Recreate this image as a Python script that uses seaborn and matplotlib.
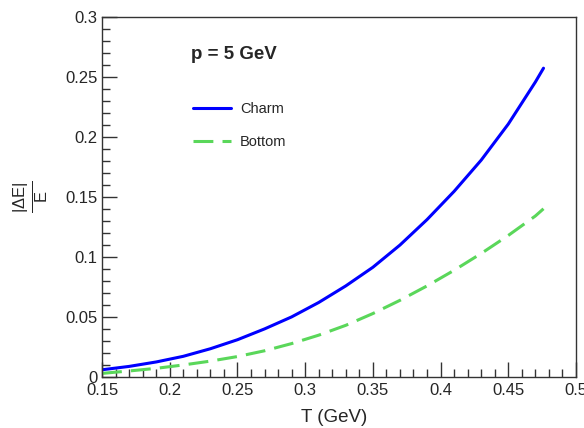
import numpy as np
import pandas as pd
import seaborn as sns
import matplotlib.pyplot as plt
from matplotlib.ticker import MultipleLocator
from matplotlib.lines import Line2D

# temperature grid (GeV) and energy-loss fractions
temperature = [0.15, 0.17, 0.19, 0.21, 0.23, 0.25, 0.27, 0.29, 0.31,
               0.33, 0.35, 0.37, 0.39, 0.41, 0.43, 0.45, 0.47, 0.476]
charm = [0.0060, 0.0088, 0.0125, 0.0172, 0.0235, 0.031, 0.040, 0.050, 0.062,
         0.0758, 0.0913, 0.1098, 0.131, 0.1545, 0.1805, 0.2105, 0.2455, 0.257]
bottom = [0.0030, 0.0050, 0.0072, 0.0100, 0.0132, 0.0170, 0.0218, 0.0278, 0.0348,
          0.0430, 0.0528, 0.0638, 0.0758, 0.0888, 0.1028, 0.1178, 0.1340, 0.1400]

df = pd.DataFrame({'T': temperature, 'Charm': charm, 'Bottom': bottom})

sns.set_style('ticks')
plt.rcParams['font.family'] = ['Liberation Sans', 'DejaVu Sans']
plt.rcParams['mathtext.fontset'] = 'custom'
plt.rcParams['mathtext.rm'] = 'Liberation Sans'
plt.rcParams['mathtext.it'] = 'Liberation Sans'

fig = plt.figure(figsize=(5.84, 4.28), dpi=100)
ax = fig.add_axes([0.1747, 0.1192, 0.8116, 0.8422])

blue = '#0000ff'
green = '#5ad75a'
sns.lineplot(x='T', y='Charm', data=df, ax=ax, color=blue, linewidth=2.2)
sns.lineplot(x='T', y='Bottom', data=df, ax=ax, color=green, linewidth=2.2)
ax.lines[-1].set_dashes([6.5, 3])

ax.set_xlim(0.15, 0.5)
ax.set_ylim(0, 0.3)
ax.xaxis.set_minor_locator(MultipleLocator(0.01))
ax.yaxis.set_minor_locator(MultipleLocator(0.01))
ax.set_xticks([0.15, 0.2, 0.25, 0.3, 0.35, 0.4, 0.45, 0.5])
ax.set_xticklabels(['0.15', '0.2', '0.25', '0.3', '0.35', '0.4', '0.45', '0.5'])
ax.set_yticks([0, 0.05, 0.1, 0.15, 0.2, 0.25, 0.3])
ax.set_yticklabels(['0', '0.05', '0.1', '0.15', '0.2', '0.25', '0.3'])

ax.tick_params(which='major', direction='in', length=11, width=1, labelsize=12,
               top=False, right=False, color='#333333')
ax.tick_params(which='minor', direction='in', length=6, width=1,
               top=False, right=False, color='#333333')
ax.tick_params(axis='x', pad=4)
ax.tick_params(axis='y', pad=3)
for s in ax.spines.values():
    s.set_linewidth(1)
    s.set_color('#333333')

ax.set_xlabel('T (GeV)', fontsize=13.5)
ax.xaxis.set_label_coords(0.489, -0.088)
ax.set_ylabel(r'$\mathrm{\frac{|\Delta E|}{E}}$', fontsize=17)
ax.yaxis.set_label_coords(-0.11, 0.5)

ax.text(0.188, 0.895, 'p = 5 GeV', transform=ax.transAxes, fontsize=13.5,
        fontweight='bold', va='center', ha='left')

handles = [Line2D([], [], color=blue, linewidth=2.2),
           Line2D([], [], color=green, linewidth=2.2, dashes=[6.5, 3])]
ax.legend(handles, ['Charm', 'Bottom'], loc='upper left',
          bbox_to_anchor=(0.165, 0.8), frameon=False, fontsize=10.5,
          handlelength=2.6, labelspacing=1.35, handletextpad=0.6)

fig.savefig('out.png', dpi=100)
